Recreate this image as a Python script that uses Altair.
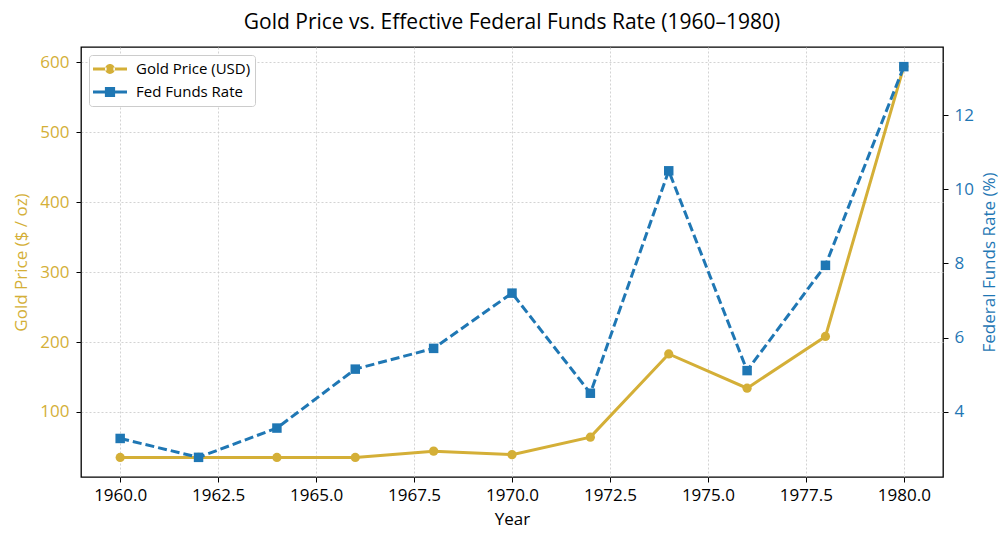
import altair as alt
import pandas as pd

years = [1960, 1962, 1964, 1966, 1968, 1970, 1972, 1974, 1976, 1978, 1980]
gold_price = [35, 35, 35, 35, 44, 39, 64, 183, 134, 208, 594]
fed_rate = [3.28, 2.77, 3.56, 5.15, 5.71, 7.20, 4.50, 10.50, 5.11, 7.95, 13.31]
series_names = ["Gold Price (USD)", "Fed Funds Rate"]
x_ticks = [1960, 1962.5, 1965, 1967.5, 1970, 1972.5, 1975, 1977.5, 1980]
gold_ticks = [100, 200, 300, 400, 500, 600]
fed_ticks = [4, 6, 8, 10, 12]

GOLD = "#D4AF37"
BLUE = "#1F77B4"
FONT = "Open Sans"

# legend symbols: line segment with marker in the middle (unit box -1..1)
PATH_CIRCLE = ("M-1,-0.085L-0.2,-0.085L-0.2,0.085L-1,0.085Z "
               "M0.2,-0.085L1,-0.085L1,0.085L0.2,0.085Z "
               "M-0.29,0A0.29,0.29 0 1,0 0.29,0A0.29,0.29 0 1,0 -0.29,0Z")
PATH_SQUARE = ("M-1,-0.085L-0.28,-0.085L-0.28,0.085L-1,0.085Z "
               "M0.28,-0.085L1,-0.085L1,0.085L0.28,0.085Z "
               "M-0.3,-0.3L0.3,-0.3L0.3,0.3L-0.3,0.3Z")

df = pd.DataFrame({"Year": years, "Gold": gold_price, "Fed": fed_rate})
legend_df = pd.DataFrame({"series": series_names})

grid_kw = dict(gridDash=[2, 2], gridColor="#c8c8c8", gridWidth=0.8)

x_enc = alt.X(
    "Year:Q",
    scale=alt.Scale(domain=[1959, 1981], nice=False, zero=False),
    axis=alt.Axis(values=x_ticks, format=".1f", title="Year", grid=True,
                  labelPadding=5, titlePadding=8, labelFlush=False, **grid_kw),
)

gold_y = alt.Y(
    "Gold:Q",
    scale=alt.Scale(domain=[7, 622], nice=False, zero=False),
    axis=alt.Axis(orient="left", values=gold_ticks, title="Gold Price ($ / oz)",
                  labelColor=GOLD, titleColor=GOLD, grid=True,
                  labelPadding=7, titlePadding=9, **grid_kw),
)
fed_y = alt.Y(
    "Fed:Q",
    scale=alt.Scale(domain=[2.24, 13.84], nice=False, zero=False),
    axis=alt.Axis(orient="right", values=fed_ticks, title="Federal Funds Rate (%)",
                  labelColor=BLUE, titleColor=BLUE, grid=False, titleAngle=270,
                  titleBaseline="top", labelPadding=6, titlePadding=8),
)

base = alt.Chart(df)
gold_line = base.mark_line(color=GOLD, strokeWidth=3).encode(x=x_enc, y=gold_y)
gold_pts = base.mark_point(shape="circle", filled=True, size=85, color=GOLD,
                           opacity=1).encode(x=x_enc, y=gold_y)
gold_layer = alt.layer(gold_line, gold_pts)

fed_line = base.mark_line(color=BLUE, strokeWidth=3, strokeDash=[9, 4]).encode(x=x_enc, y=fed_y)
fed_pts = base.mark_point(shape="square", filled=True, size=90, color=BLUE,
                          opacity=1).encode(x=x_enc, y=fed_y)
fed_layer = alt.layer(fed_line, fed_pts)

leg = alt.Legend(title=None, orient="top-left", offset=8, fillColor="white",
                 strokeColor="#cccccc", cornerRadius=3, padding=4,
                 symbolSize=1156, symbolStrokeWidth=0, labelFont=FONT,
                 labelFontSize=15, labelColor="black", labelOffset=9,
                 clipHeight=20, rowPadding=3)
legend_layer = alt.Chart(legend_df).mark_point(filled=True, opacity=1).encode(
    color=alt.Color("series:N", scale=alt.Scale(domain=series_names, range=[GOLD, BLUE]), legend=leg),
    shape=alt.Shape("series:N", scale=alt.Scale(domain=series_names, range=[PATH_CIRCLE, PATH_SQUARE]), legend=leg),
).transform_filter("false")

chart = alt.layer(gold_layer, fed_layer, legend_layer).resolve_scale(
    y="independent"
).properties(
    width=862,
    height=430,
    title=alt.TitleParams("Gold Price vs. Effective Federal Funds Rate (1960\u20131980)",
                          font=FONT, fontSize=21, fontWeight="normal", color="black",
                          anchor="middle", offset=14),
    autosize=alt.AutoSizeParams(type="none"),
    padding={"left": 73, "top": 39, "right": 57, "bottom": 55},
).configure_view(
    stroke="black", strokeWidth=1.3
).configure_axis(
    domain=False, tickColor="black", tickSize=5, tickWidth=1,
    labelFont=FONT, labelFontSize=17, labelColor="black",
    titleFont=FONT, titleFontSize=17, titleFontWeight="normal", titleColor="black",
)

chart.save("out.html", embed_options={"renderer": "svg", "actions": False})
